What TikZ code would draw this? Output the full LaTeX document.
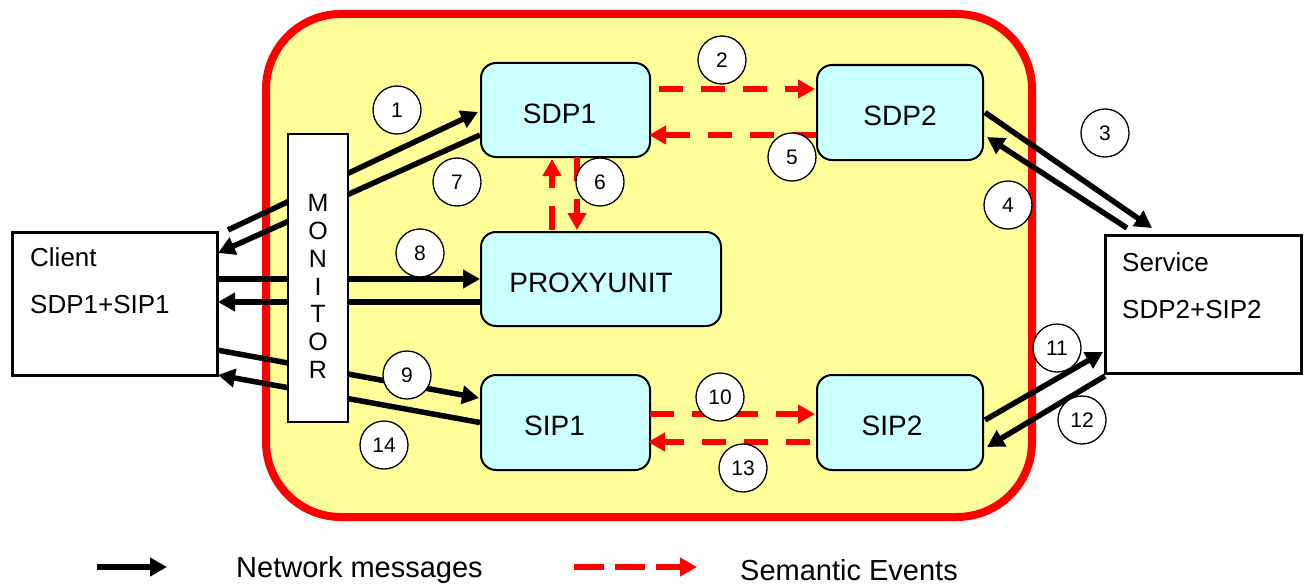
\documentclass[tikz,border=0pt]{standalone}
\usepackage{fontspec}
\setmainfont{Liberation Sans}
\usetikzlibrary{arrows.meta}
\definecolor{coreyellow}{RGB}{255,255,153}
\definecolor{unitcyan}{RGB}{204,255,255}
\definecolor{framered}{RGB}{255,0,0}
\begin{document}
\begin{tikzpicture}[x=1pt,y=-1pt,
  core/.style={draw=framered, line width=8pt, fill=coreyellow, rounded corners=75pt,
    inner sep=0pt, outer sep=0pt},
  unit/.style={draw=black, line width=2pt, fill=unitcyan, rounded corners=15pt,
    inner sep=0pt, outer sep=0pt, text height=26pt, text depth=0pt,
    font=\fontsize{28}{34}\selectfont},
  endpoint/.style={draw=black, line width=3pt, fill=white, inner sep=0pt, outer sep=0pt},
  endtext/.style={anchor=west, inner sep=0pt, font=\fontsize{26}{31}\selectfont},
  monbox/.style={draw=black, line width=1.5pt, fill=white, inner sep=0pt, outer sep=0pt},
  montext/.style={align=center, inner sep=0pt, font=\fontsize{25}{27.8}\selectfont},
  num/.style={circle, draw=black, line width=1.3pt, fill=white, minimum size=48pt,
    inner sep=0pt, font=\fontsize{21}{25}\selectfont},
  msg/.style={line width=5.5pt, -{Triangle[length=17pt,width=18pt]}},
  evt/.style={draw=framered, line width=6.5pt, dash pattern=on 24pt off 18pt,
    -{Triangle[length=17pt,width=18pt]}},
  legendtext/.style={anchor=west, inner sep=0pt, font=\fontsize{29}{34}\selectfont}
]
\useasboundingbox (0,0) rectangle (1308,586);

% system frame
\node[core, minimum width=766pt, minimum height=503pt] (frame) at (649,265.5) {};

% functional units
\node[unit, minimum width=169pt, minimum height=94pt] (sdp1) at (565.5,110) {SDP1\hspace*{12pt}};
\node[unit, minimum width=166pt, minimum height=95pt] (sdp2) at (900,112.5) {SDP2};
\node[unit, minimum width=240pt, minimum height=94pt] (proxy) at (601,279) {PROXYUNIT\hspace*{20pt}};
\node[unit, minimum width=169pt, minimum height=95pt] (sip1) at (565.5,422.5) {SIP1\hspace*{22pt}};
\node[unit, minimum width=166pt, minimum height=95pt] (sip2) at (900,422.5) {SIP2\hspace*{16pt}};

% client and service
\node[endpoint, minimum width=205pt, minimum height=143pt] (client) at (114.5,303.5) {};
\node[endtext] (clientname) at (30,257) {Client};
\node[endtext] (clientproto) at (30,305) {SDP1+SIP1};
\node[endpoint, minimum width=196pt, minimum height=138pt] (service) at (1203,304) {};
\node[endtext] (servicename) at (1122,262) {Service};
\node[endtext] (serviceproto) at (1122,310) {SDP2+SIP2};

% network messages
\draw[msg] ([shift={(11,-2)}]client.north east) -- ([shift={(-3,2)}]sdp1.west);
\draw[msg] ([shift={(-1,25)}]sdp1.west) -- ([shift={(1,21)}]client.north east);
\draw[msg] (client.east |- proxy.west) -- ([shift={(-1,0)}]proxy.west);
\draw[msg] ([shift={(-1,23)}]proxy.west) -- ([shift={(1,-1.5)}]client.east);
\draw[msg] ([shift={(0,-25)}]client.south east) -- ([shift={(-2,-24.5)}]sip1.west);
\draw[msg] ([shift={(-1,0)}]sip1.west) -- ([shift={(1,0)}]client.south east);
\draw[msg] ([shift={(2,0)}]sdp2.east) -- ([shift={(47,-7)}]service.north west);
\draw[msg] ([shift={(22,-7)}]service.north west) -- ([shift={(4,24.5)}]sdp2.east);
\draw[msg] ([shift={(2,-2.5)}]sip2.east) -- ([shift={(-2,-21)}]service.south west);
\draw[msg] ([shift={(0,3)}]service.south west) -- ([shift={(4,24.5)}]sip2.east);

% semantic events
\draw[evt] ([shift={(9,-21)}]sdp1.east) -- ([shift={(-2,-23.5)}]sdp2.west);
\draw[evt] ([shift={(-1,22.5)}]sdp2.west) -- ([shift={(-1,25)}]sdp1.east);
\draw[evt] ([shift={(-49,-2)}]proxy.north) -- ([shift={(-13.5,2)}]sdp1.south);
\draw[evt] ([shift={(11.5,0)}]sdp1.south) -- ([shift={(-24,-2)}]proxy.north);
\draw[evt] ([shift={(0,-8.5)}]sip1.east) -- ([shift={(-2,-8.5)}]sip2.west);
\draw[evt] ([shift={(-7,19.5)}]sip2.west) -- ([shift={(-2,19.5)}]sip1.east);

% monitor
\node[monbox, minimum width=60pt, minimum height=288pt] (monitor) at (318,278) {};
\node[montext] (monitorlabel) at (318,286.5) {M\\O\\N\\I\\T\\O\\R};

% step numbers
\node[num] (n1) at (397,110) {1};
\node[num] (n2) at (722,60) {2};
\node[num] (n3) at (1105,133) {3};
\node[num] (n4) at (1008,205) {4};
\node[num] (n5) at (792,157) {5};
\node[num] (n6) at (600,182) {6};
\node[num] (n7) at (457,182) {7};
\node[num] (n8) at (420,253) {8};
\node[num] (n9) at (407,375) {9};
\node[num] (n10) at (720,397) {10};
\node[num] (n11) at (1057,348) {11};
\node[num] (n12) at (1082,420) {12};
\node[num] (n13) at (743,468) {13};
\node[num] (n14) at (384,445) {14};

% legend
\coordinate (lgmsgA) at (97,567);
\coordinate (lgmsgB) at (167,567);
\draw[msg] (lgmsgA) -- (lgmsgB);
\node[legendtext] (lgmsgtext) at (236,570) {Network messages};
\coordinate (lgevtA) at (574,567);
\coordinate (lgevtB) at (697,567);
\draw[evt, dash pattern=on 30pt off 11pt] (lgevtA) -- (lgevtB);
\node[legendtext] (lgevttext) at (740,570) {Semantic Events};
\end{tikzpicture}
\end{document}
